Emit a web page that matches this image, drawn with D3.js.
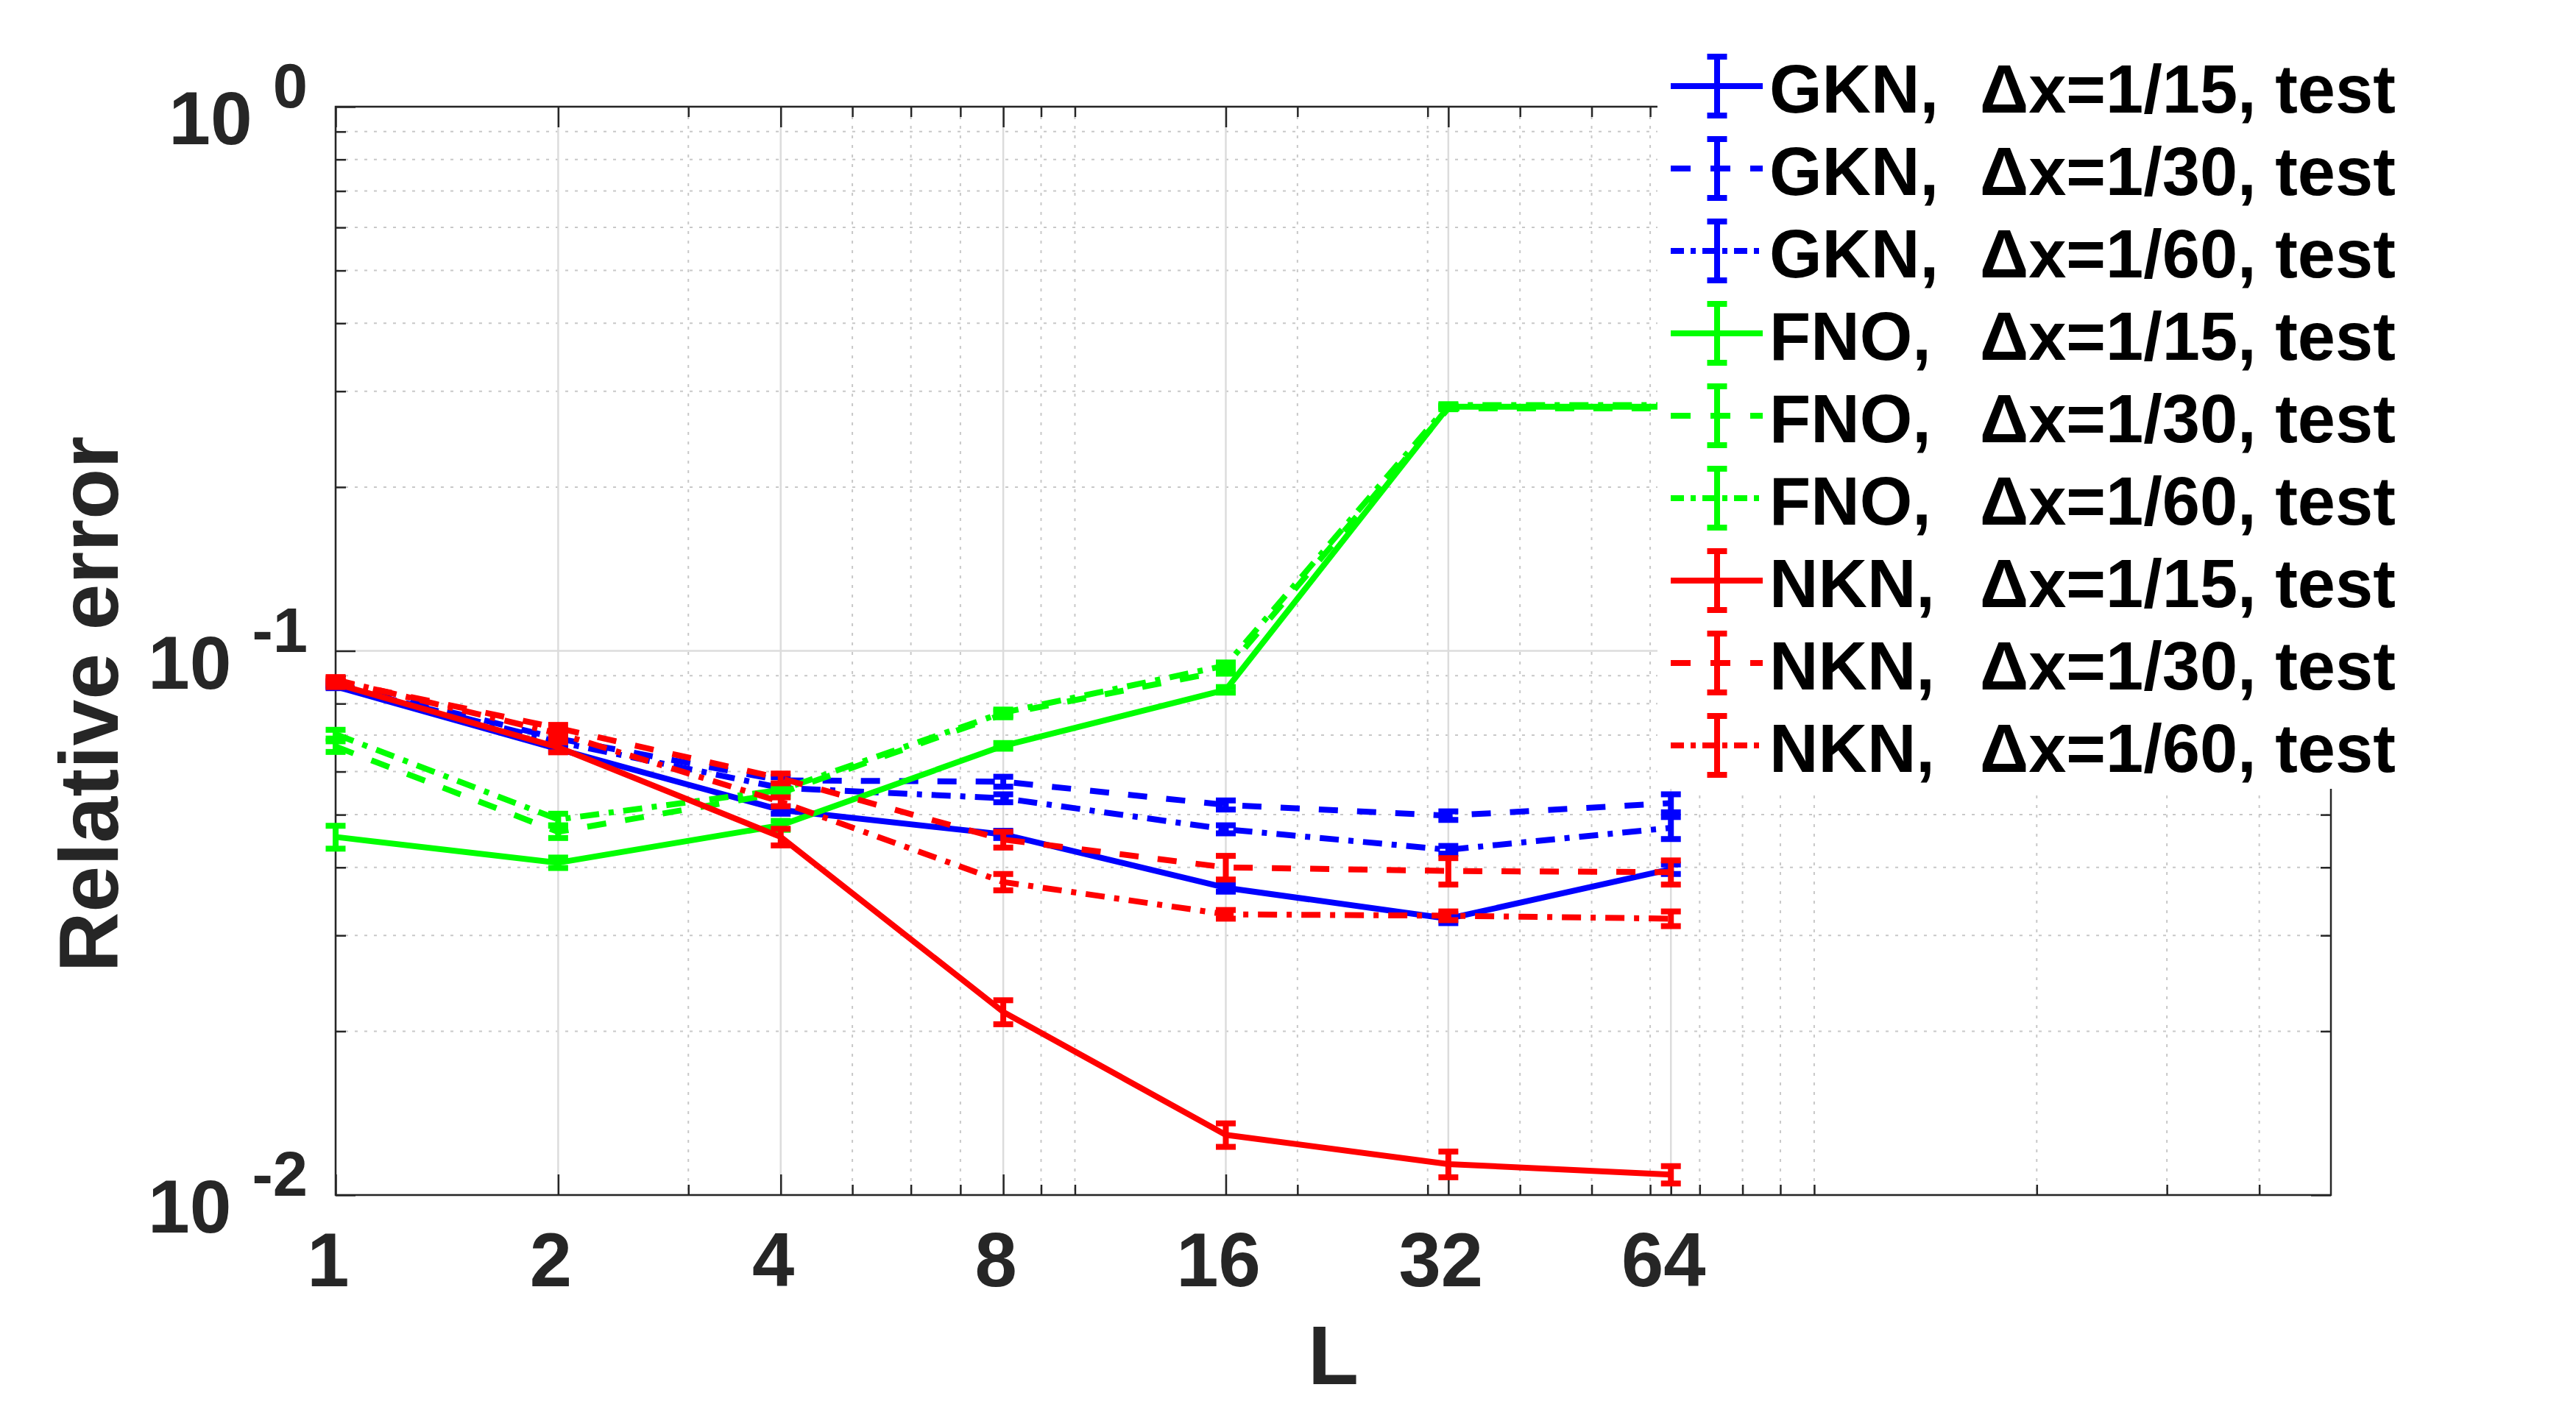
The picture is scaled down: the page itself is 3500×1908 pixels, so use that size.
<!DOCTYPE html>
<html>
<head>
	<meta charset="utf-8">
	<title>Relative error vs L</title>
	<script src="https://d3js.org/d3.v7.min.js" charset="utf-8"></script>
	<style type="text/css">
		body {
			margin: 0;
			background-color: #FFFFFF;
		}
		svg text {
			font-family: 'Liberation Sans', Arial, Helvetica, sans-serif;
			font-weight: bold;
		}
	</style>
</head>
<body>
	<div id="chart"></div>

	<script type="text/javascript">

		// number of layers on the x axis
		var L = [1, 2, 4, 8, 16, 32, 64];

		// mean relative test error, one array per model / grid size
		var gkn15 = [0.0860, 0.0660, 0.0510, 0.0460, 0.0367, 0.0322, 0.0397];
		var gkn30 = [0.0870, 0.0690, 0.0578, 0.0575, 0.0521, 0.0498, 0.0525];
		var gkn60 = [0.0865, 0.0680, 0.0560, 0.0536, 0.0470, 0.0431, 0.0473];
		var fno15 = [0.0455, 0.0408, 0.0478, 0.0669, 0.0848, 0.2810, 0.2810];
		var fno30 = [0.0667, 0.0465, 0.0548, 0.0765, 0.0920, 0.2790, 0.2790];
		var fno60 = [0.0703, 0.0490, 0.0555, 0.0770, 0.0940, 0.2830, 0.2830];
		var nkn15 = [0.0870, 0.0665, 0.0455, 0.0217, 0.0129, 0.0114, 0.0109];
		var nkn30 = [0.0880, 0.0721, 0.0583, 0.0450, 0.0400, 0.0394, 0.0392];
		var nkn60 = [0.0885, 0.0705, 0.0528, 0.0376, 0.0328, 0.0326, 0.0322];

		// half length of the error bars
		var gkn15Err = [0.0006, 0.0006, 0.0008, 0.0007, 0.0006, 0.0006, 0.0008];
		var gkn30Err = [0.0008, 0.0008, 0.0008, 0.0012, 0.0010, 0.0009, 0.0020];
		var gkn60Err = [0.0007, 0.0007, 0.0007, 0.0009, 0.0008, 0.0007, 0.0022];
		var fno15Err = [0.0022, 0.0009, 0.0009, 0.0008, 0.0010, 0.0010, 0.0010];
		var fno30Err = [0.0015, 0.0012, 0.0008, 0.0010, 0.0012, 0.0010, 0.0010];
		var fno60Err = [0.0013, 0.0012, 0.0008, 0.0010, 0.0012, 0.0010, 0.0010];
		var nkn15Err = [0.0012, 0.0014, 0.0016, 0.0011, 0.00064, 0.00062, 0.0004];
		var nkn30Err = [0.0010, 0.0010, 0.0012, 0.0015, 0.0020, 0.0022, 0.0020];
		var nkn60Err = [0.0010, 0.0010, 0.0010, 0.0013, 0.0006, 0.0006, 0.0010];

		// legend text
		var models = ['GKN,', 'GKN,', 'GKN,', 'FNO,', 'FNO,', 'FNO,', 'NKN,', 'NKN,', 'NKN,'];
		var grids = ['\u0394x=1/15, test', '\u0394x=1/30, test', '\u0394x=1/60, test',
		             '\u0394x=1/15, test', '\u0394x=1/30, test', '\u0394x=1/60, test',
		             '\u0394x=1/15, test', '\u0394x=1/30, test', '\u0394x=1/60, test'];

		// tick labels
		var yTicks = [0.01, 0.1, 1];
		var yTickExp = ['-2', '-1', '0'];

		var values = [gkn15, gkn30, gkn60, fno15, fno30, fno60, nkn15, nkn30, nkn60];
		var errors = [gkn15Err, gkn30Err, gkn60Err, fno15Err, fno30Err, fno60Err, nkn15Err, nkn30Err, nkn60Err];
		var colors = ['#0000FF', '#0000FF', '#0000FF', '#00FF00', '#00FF00', '#00FF00', '#FF0000', '#FF0000', '#FF0000'];
		var dashes = ['none', '26,26', '26,13,7,13'];

		var w = 3500;
		var h = 1908;
		// note: "top" is taken by window.top, so prefix these
		var pLeft = 456, pRight = 3167, pTop = 145, pBottom = 1624;
		var lw = 8;
		var axisColor = '#262626';

		var x = d3.scaleLog().base(2).domain([1, 500]).range([pLeft, pRight]);
		var y = d3.scaleLog().domain([0.01, 1]).range([pBottom, pTop]);

		// minor ticks like matlab's log axes
		var xMinor = [];
		[1, 10, 100].forEach(function(k){
			for (var m = 1; m <= 9; m++) {
				var v = m * k;
				if (v > 1 && v < 500 && L.indexOf(v) < 0) xMinor.push(v);
			}
		});
		var yMinor = [];
		[0.01, 0.1].forEach(function(k){
			for (var m = 2; m <= 9; m++) yMinor.push(m * k);
		});

		var svg = d3.select('#chart')
			.append('svg')
			.attr('width', w)
			.attr('height', h)
			.attr('viewBox', '0 0 ' + w + ' ' + h);

		svg.append('rect').attr('width', w).attr('height', h).attr('fill', '#FFFFFF');

		// grid
		var grid = svg.append('g');
		grid.selectAll('.xminor').data(xMinor).enter().append('line')
			.attr('x1', function(d){ return x(d); }).attr('x2', function(d){ return x(d); })
			.attr('y1', pTop).attr('y2', pBottom)
			.attr('stroke', '#C8C8C8').attr('stroke-width', 2).attr('stroke-dasharray', '4,9');
		grid.selectAll('.yminor').data(yMinor).enter().append('line')
			.attr('y1', function(d){ return y(d); }).attr('y2', function(d){ return y(d); })
			.attr('x1', pLeft).attr('x2', pRight)
			.attr('stroke', '#C8C8C8').attr('stroke-width', 2).attr('stroke-dasharray', '4,9');
		grid.selectAll('.xmajor').data(L).enter().append('line')
			.attr('x1', function(d){ return x(d); }).attr('x2', function(d){ return x(d); })
			.attr('y1', pTop).attr('y2', pBottom)
			.attr('stroke', '#DCDCDC').attr('stroke-width', 2.5);
		grid.selectAll('.ymajor').data(yTicks).enter().append('line')
			.attr('y1', function(d){ return y(d); }).attr('y2', function(d){ return y(d); })
			.attr('x1', pLeft).attr('x2', pRight)
			.attr('stroke', '#DCDCDC').attr('stroke-width', 2.5);

		// ticks on all four sides, pointing inwards
		function ticks(gen, vals, size, tr) {
			var g = svg.append('g')
				.attr('transform', tr)
				.call(gen.tickValues(vals).tickSize(size).tickFormat(''));
			g.select('.domain').remove();
			g.selectAll('line').attr('stroke', axisColor).attr('stroke-width', 2.5);
		}
		ticks(d3.axisBottom(x), L, -28, 'translate(0,' + pBottom + ')');
		ticks(d3.axisBottom(x), xMinor, -14, 'translate(0,' + pBottom + ')');
		ticks(d3.axisTop(x), L, -28, 'translate(0,' + pTop + ')');
		ticks(d3.axisTop(x), xMinor, -14, 'translate(0,' + pTop + ')');
		ticks(d3.axisLeft(y), yTicks, -27, 'translate(' + pLeft + ',0)');
		ticks(d3.axisLeft(y), yMinor, -14, 'translate(' + pLeft + ',0)');
		ticks(d3.axisRight(y), yTicks, -27, 'translate(' + pRight + ',0)');
		ticks(d3.axisRight(y), yMinor, -14, 'translate(' + pRight + ',0)');

		svg.append('rect')
			.attr('x', pLeft).attr('y', pTop)
			.attr('width', pRight - pLeft).attr('height', pBottom - pTop)
			.attr('fill', 'none').attr('stroke', axisColor).attr('stroke-width', 2.5);

		// tick labels
		svg.selectAll('.xlab').data(L).enter().append('text')
			.text(function(d){ return d; })
			.attr('x', function(d){ return x(d) - 10; })
			.attr('y', 1748)
			.attr('font-size', '103px')
			.attr('fill', axisColor)
			.attr('text-anchor', 'middle');

		var ylab = svg.selectAll('.ylab').data(yTicks).enter().append('text')
			.attr('x', 418)
			.attr('y', function(d){ return y(d) + 51; })
			.attr('font-size', '102px')
			.attr('fill', axisColor)
			.attr('text-anchor', 'end');
		ylab.append('tspan').text('10');
		ylab.append('tspan')
			.text(function(d, i){ return yTickExp[i]; })
			.attr('dx', 28).attr('dy', -50)
			.attr('font-size', '85px');

		// axis titles
		svg.append('text')
			.text('L')
			.attr('x', (pLeft + pRight) / 2)
			.attr('y', 1881)
			.attr('font-size', '113px')
			.attr('fill', axisColor)
			.attr('text-anchor', 'middle');

		svg.append('text')
			.text('Relative error')
			.attr('transform', 'translate(160,957) rotate(-90)')
			.attr('font-size', '113px')
			.attr('fill', axisColor)
			.attr('text-anchor', 'middle');

		// data
		var line = d3.line()
			.x(function(d){ return x(d.L); })
			.y(function(d){ return y(d.v); });

		values.forEach(function(vals, s){
			var pts = L.map(function(l, i){ return {L: l, v: vals[i], e: errors[s][i]}; });
			var g = svg.append('g')
				.attr('stroke', colors[s])
				.attr('stroke-width', lw)
				.attr('fill', 'none');

			g.append('path')
				.attr('d', line(pts))
				.attr('stroke-dasharray', dashes[s % 3])
				.attr('stroke-linejoin', 'round');

			var bars = g.selectAll('.bar').data(pts).enter().append('g');
			bars.append('line')
				.attr('x1', function(d){ return x(d.L); }).attr('x2', function(d){ return x(d.L); })
				.attr('y1', function(d){ return y(d.v - d.e); }).attr('y2', function(d){ return y(d.v + d.e); });
			bars.append('line')
				.attr('x1', function(d){ return x(d.L) - 13.5; }).attr('x2', function(d){ return x(d.L) + 13.5; })
				.attr('y1', function(d){ return y(d.v - d.e); }).attr('y2', function(d){ return y(d.v - d.e); });
			bars.append('line')
				.attr('x1', function(d){ return x(d.L) - 13.5; }).attr('x2', function(d){ return x(d.L) + 13.5; })
				.attr('y1', function(d){ return y(d.v + d.e); }).attr('y2', function(d){ return y(d.v + d.e); });
		});

		// legend
		var legend = svg.append('g');
		legend.append('rect')
			.attr('x', 2252).attr('y', 55)
			.attr('width', 1060).attr('height', 1017)
			.attr('fill', '#FFFFFF');

		var rows = legend.selectAll('.row').data(models).enter().append('g')
			.attr('transform', function(d, i){ return 'translate(0,' + (117 + i * 112) + ')'; });

		rows.append('line')
			.attr('x1', 2270).attr('x2', 2395).attr('y1', 0).attr('y2', 0)
			.attr('stroke', function(d, i){ return colors[i]; })
			.attr('stroke-width', lw)
			.attr('stroke-dasharray', function(d, i){ return i % 3 == 0 ? 'none' : (i % 3 == 1 ? '27,27' : '18,9,7,9'); });
		rows.append('line')
			.attr('x1', 2333).attr('x2', 2333).attr('y1', -40).attr('y2', 40)
			.attr('stroke', function(d, i){ return colors[i]; })
			.attr('stroke-width', lw);
		[-40, 40].forEach(function(cy){
			rows.append('line')
				.attr('x1', 2319.5).attr('x2', 2346.5).attr('y1', cy).attr('y2', cy)
				.attr('stroke', function(d, i){ return colors[i]; })
				.attr('stroke-width', lw);
		});

		var lt = rows.append('text')
			.attr('y', 36)
			.attr('font-size', '92px')
			.attr('fill', '#000000');
		lt.append('tspan').attr('x', 2404).text(function(d){ return d; });
		lt.append('tspan').attr('x', 2690).text(function(d, i){ return grids[i]; });

	</script>
</body>
</html>
